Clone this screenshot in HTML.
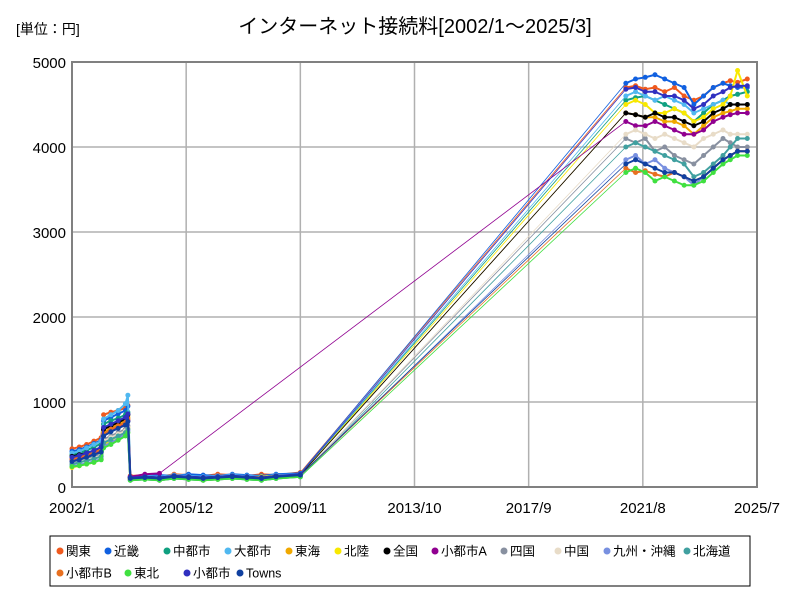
<!DOCTYPE html>
<html><head><meta charset="utf-8"><style>
body{margin:0;background:#fff;font-family:"Liberation Sans","Noto Sans CJK JP",sans-serif}
</style></head><body>
<svg id="c" width="800" height="600" xmlns="http://www.w3.org/2000/svg"></svg>
<script>
const xTickLabels=["2002/1","2005/12","2009/11","2013/10","2017/9","2021/8","2025/7"];
const yTicks=[0,1000,2000,3000,4000,5000];
const monthsA=[0,3,6,9,12,13,16,19,22,23];
const monthsB=[24,30,36,42,48,54,60,66,72,78,84,94];
const monthsC=[228,232,236,240,244,248,252,256,260,264,268,271,274,278];
const names=["関東","近畿","中都市","大都市","東海","北陸","全国","小都市A","四国","中国","九州・沖縄","北海道","小都市B","東北","小都市","Towns"];
const colors=["#f05a1e","#1060e0","#10a080","#50b8f0","#f0a800","#f8e800","#000000","#900090","#8890a0","#e8dcc8","#7890e0","#40a0a0","#e87020","#40e040","#3030c0","#1040a0"];
const sKanto=[450,470,500,540,580,850,880,900,930,960, 130,140,120,150,140,130,150,140,130,150,140,170, 4700,4720,4680,4700,4650,4700,4600,4550,4600,4700,4750,4780,4760,4800];
const sKinki=[420,440,470,510,550,780,820,860,900,950, 120,130,140,130,150,140,130,150,140,130,150,160, 4750,4800,4820,4850,4800,4750,4700,4500,4600,4700,4750,4720,4700,4700];
const sChu=[380,400,430,470,510,740,780,810,850,880, 110,120,110,130,120,110,120,130,120,110,130,150, 4550,4580,4600,4550,4500,4450,4400,4300,4400,4500,4550,4600,4620,4650];
const sDai=[400,420,460,500,540,800,850,900,980,1080, 120,130,120,140,130,120,130,140,130,120,140,150, 4600,4650,4600,4550,4600,4550,4500,4400,4450,4500,4550,4500,4500,4500];
const sTokai=[340,360,390,420,460,640,700,740,780,820, 100,110,100,120,110,100,110,120,110,100,120,140, 4400,4380,4350,4350,4300,4300,4250,4150,4250,4350,4400,4420,4450,4450];
const sHoku=[230,250,270,290,330,500,550,600,650,700, 90,100,90,110,100,80,90,100,110,120,130,140, 4500,4550,4500,4400,4400,4450,4400,4300,4350,4450,4500,4600,4900,4600];
const sZen=[360,380,400,420,450,680,720,760,800,850, 110,120,110,130,120,110,120,130,120,110,130,140, 4400,4380,4350,4400,4350,4350,4300,4250,4300,4400,4450,4500,4500,4500];
const sShoA=[320,340,370,400,430,600,660,700,740,780, 120,150,160,null,null,null,null,null,null,null,null,null, 4300,4250,4250,4300,4250,4200,4150,4150,4200,4300,4350,4380,4400,4400];
const sShikoku=[300,320,340,360,380,560,600,640,680,720, 90,100,90,110,100,90,100,110,100,90,110,130, 4100,4050,4100,3950,4000,3900,3850,3800,3900,4000,4100,4050,4000,4000];
const sChugoku=[280,300,320,340,370,540,580,620,660,700, 90,100,90,100,100,90,100,110,100,90,100,130, 4150,4200,4150,4100,4150,4100,4050,4000,4100,4150,4200,4150,4150,4150];
const sKyushu=[250,260,280,300,330,480,520,570,620,660, 80,90,80,100,90,80,90,100,90,80,100,120, 3850,3900,3800,3850,3750,3700,3650,3550,3650,3750,3850,3900,3950,3950];
const sHokkai=[270,290,310,330,360,520,560,600,640,680, 80,90,80,100,90,80,90,100,90,80,100,120, 4000,4050,4000,3950,3900,3850,3800,3650,3700,3800,3900,4000,4100,4100];
const sShoB=[330,350,380,410,440,620,680,720,760,800, 100,110,100,120,110,100,110,120,110,100,120,140, 3750,3700,3720,3680,3650,3700,3650,3600,3650,3750,3850,3900,3950,3950];
const sTohoku=[240,250,270,290,320,460,500,550,600,640, 80,90,80,100,90,80,90,100,90,80,100,120, 3700,3750,3700,3600,3650,3600,3550,3550,3600,3700,3800,3850,3900,3900];
const sSho=[350,370,400,430,470,700,740,780,820,860, 110,120,110,130,120,110,120,130,120,110,130,150, 4680,4700,4650,4650,4600,4600,4550,4450,4500,4600,4650,4700,4720,4720];
const sTowns=[300,320,350,380,410,600,650,690,730,770, 100,110,100,120,110,100,110,120,110,100,120,140, 3800,3850,3800,3750,3700,3700,3650,3600,3650,3750,3850,3900,3950,3950];
const series=[sKanto,sKinki,sChu,sDai,sTokai,sHoku,sZen,sShoA,sShikoku,sChugoku,sKyushu,sHokkai,sShoB,sTohoku,sSho,sTowns];
const months=monthsA.concat(monthsB,monthsC);

const svg=document.getElementById('c');
const NS="http://www.w3.org/2000/svg";
const L=72,R=757,T=62,B=487,M=282,VMAX=5000;
const xs=m=>L+(R-L)*m/M;
const ys=v=>B-(B-T)*v/VMAX;
function mk(t,a,p){const e=document.createElementNS(NS,t);for(const k in a)e.setAttribute(k,a[k]);(p||svg).appendChild(e);return e;}

const grid=mk('g',{});


xTickLabels.forEach((lab,i)=>{const x=L+(R-L)*i/6;
 mk('line',{x1:x,x2:x,y1:T,y2:B,stroke:'#b0b0b0','stroke-width':1.5},grid);
 const t=mk('text',{x:x,y:513,'text-anchor':'middle','font-size':15,fill:'#000'});t.textContent=lab;
 
 });
yTicks.forEach(v=>{const y=ys(v);
 mk('line',{x1:L,x2:R,y1:y,y2:y,stroke:'#b0b0b0','stroke-width':1.5},grid);
 const t=mk('text',{x:L-6,y:y+6,'text-anchor':'end','font-size':15,fill:'#000'});t.textContent=v;
 
 });
const frame=mk('rect',{x:L,y:T,width:R-L,height:B-T,fill:'none',stroke:'#808080','stroke-width':2});



series.forEach((s,i)=>{const g=mk('g',{});
 
 
 let prev=null;
 s.forEach((v,j)=>{if(v==null)return;
  if(prev){const gap=months[j]-months[prev.j]>20;
   mk('line',{x1:xs(months[prev.j]),y1:ys(prev.v),x2:xs(months[j]),y2:ys(v),stroke:colors[i],'stroke-width':gap?0.8:2},g);}
  prev={j:j,v:v};});
 s.forEach((v,j)=>{if(v==null)return;const c=mk('circle',{cx:xs(months[j]),cy:ys(v),r:2.5,fill:colors[i]},g);
  
  });
});

const title=mk('text',{x:415,y:33,'text-anchor':'middle','font-size':20,fill:'#000'});
title.textContent='インターネット接続料[2002/1～2025/3]';


const unit=mk('text',{x:16,y:34,'font-size':14,fill:'#000'});
unit.textContent='[単位：円]';



const lg=mk('g',{});


mk('rect',{x:50,y:536,width:700,height:50,fill:'#fff',stroke:'#000','stroke-width':1},lg);
const lx=[56,104,163,224,285,334,383,431,500,554,603,683, 56,124,183,236];
names.forEach((n,i)=>{const row=i<12?0:1;const x=lx[i],y=row?573:551;
 const e=mk('g',{},lg);
 
 
 mk('circle',{cx:x+4,cy:y,r:3.5,fill:colors[i]},e);
 const t=mk('text',{x:x+10,y:y+4.5,'font-size':12.5,fill:'#000'},e);t.textContent=n;});
</script>
</body></html>
